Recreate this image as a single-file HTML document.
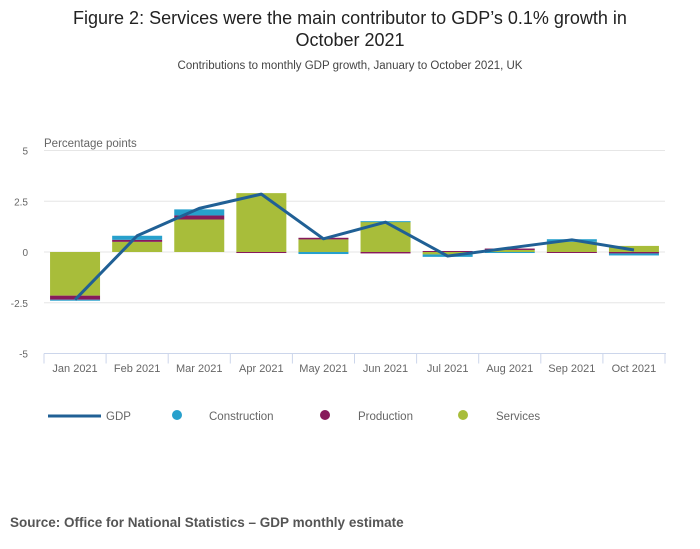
<!DOCTYPE html>
<html><head><meta charset="utf-8"><style>
body{margin:0;background:#fff;font-family:"Liberation Sans",sans-serif;}
#wrap{position:relative;width:700px;height:549px;overflow:hidden;}
</style></head><body>
<div id="wrap">
<svg id="chart" width="700" height="549" xmlns="http://www.w3.org/2000/svg">
<text x="350" y="24" text-anchor="middle" font-size="18" fill="#222">Figure 2: Services were the main contributor to GDP’s 0.1% growth in</text>
<text x="350" y="46" text-anchor="middle" font-size="18" fill="#222">October 2021</text>
<text x="350" y="69" text-anchor="middle" font-size="11.5" fill="#444">Contributions to monthly GDP growth, January to October 2021, UK</text>
<text x="44" y="147" font-size="11.5" fill="#666">Percentage points</text>
<g id="grid"></g><g id="bars"></g><g id="line"></g><g id="xaxis"></g>
<g>
<line x1="48" y1="416" x2="101" y2="416" stroke="#206095" stroke-width="3"/>
<text x="106" y="420" font-size="11.5" fill="#666">GDP</text>
<circle cx="177" cy="415" r="5" fill="#27a0cc"/>
<text x="209" y="420" font-size="11.5" fill="#666">Construction</text>
<circle cx="325" cy="415" r="5" fill="#871a5b"/>
<text x="358" y="420" font-size="11.5" fill="#666">Production</text>
<circle cx="463" cy="415" r="5" fill="#a8bd3a"/>
<text x="496" y="420" font-size="11.5" fill="#666">Services</text>
</g>
<text x="10" y="527" font-size="13.5" font-weight="bold" fill="#555">Source: Office for National Statistics – GDP monthly estimate</text>
</svg>
</div>
<script>
const categories=["Jan 2021","Feb 2021","Mar 2021","Apr 2021","May 2021","Jun 2021","Jul 2021","Aug 2021","Sep 2021","Oct 2021"];
const services=[-2.15,0.5,1.6,2.9,0.62,1.5,-0.12,0.1,0.5,0.3];
const production=[-0.2,0.1,0.2,-0.05,0.08,-0.07,0.05,0.07,-0.03,-0.07];
const construction=[-0.05,0.2,0.3,0,-0.1,0.02,-0.12,-0.05,0.13,-0.1];
const gdp=[-2.35,0.8,2.15,2.85,0.65,1.47,-0.2,0.2,0.6,0.1];
const yTicks=[5,2.5,0,-2.5,-5];
const yTickLabels=["5","2.5","0","-2.5","-5"];
const NS="http://www.w3.org/2000/svg";
const X0=44,X1=665,Y0=252,PPU=20.3;
const band=(X1-X0)/categories.length;
function xC(i){return X0+band*(i+0.5);}
function y(v){return Y0-v*PPU;}
function mk(tag,attrs,parent){const e=document.createElementNS(NS,tag);for(const k in attrs)e.setAttribute(k,attrs[k]);parent.appendChild(e);return e;}
const grid=document.getElementById('grid'),bars=document.getElementById('bars'),lineG=document.getElementById('line'),xa=document.getElementById('xaxis');
yTicks.forEach((t,i)=>{
  if(t>-5){const l=mk('line',{x1:X0,x2:X1,y1:y(t),y2:y(t),stroke:'#e6e6e6','stroke-width':1},grid);
  
  }
  const tx=mk('text',{x:28,y:y(t)+4,'font-size':10,fill:'#666','text-anchor':'end'},grid);
  tx.textContent=yTickLabels[i];
  
  
});
const ax=mk('line',{x1:X0,x2:X1+1,y1:y(-5),y2:y(-5),stroke:'#ccd6eb'},xa);


for(let i=0;i<=categories.length;i++){
  const tk=mk('line',{x1:X0+band*i,x2:X0+band*i,y1:y(-5),y2:y(-5)+10,stroke:'#ccd6eb'},xa);
  
  
}
categories.forEach((c,i)=>{
  const t=mk('text',{x:xC(i),y:372,'font-size':11,fill:'#666','text-anchor':'middle'},xa);
  t.textContent=c;
  
  
  let pos=0,neg=0;
  [[services,'#a8bd3a','bar-services'],[production,'#871a5b','bar-production'],[construction,'#27a0cc','bar-construction']].forEach(([arr,col,nm])=>{
    const v=arr[i];if(!v)return;let a,b;
    if(v>0){a=pos;b=pos+v;pos=b;}else{a=neg;b=neg+v;neg=b;}
    const top=y(Math.max(a,b)),bot=y(Math.min(a,b));
    const r=mk('rect',{x:xC(i)-25,y:top,width:50,height:Math.max(bot-top,1),fill:col},bars);
    
    
  });
});
const p=mk('polyline',{points:gdp.map((v,i)=>xC(i)+','+y(v)).join(' '),fill:'none',stroke:'#206095','stroke-width':3,'stroke-linejoin':'round'},lineG);


</script>
</body></html>
